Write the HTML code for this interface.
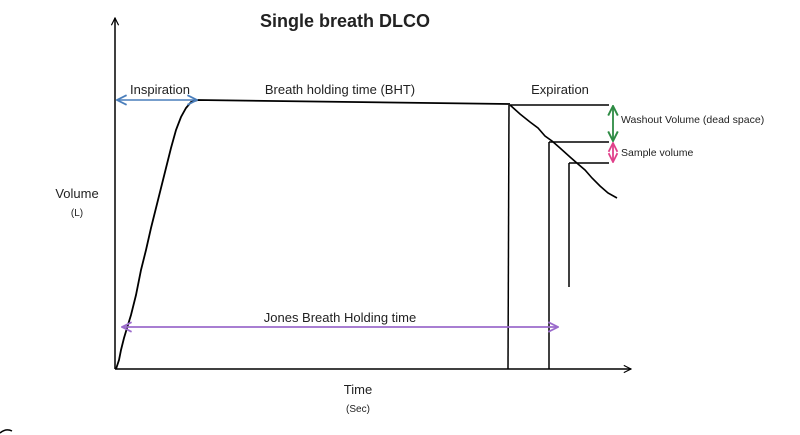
<!DOCTYPE html>
<html><head><meta charset="utf-8"><style>
html,body{margin:0;padding:0;background:#fff;}
svg{display:block;}
text{font-family:"Liberation Sans",sans-serif;fill:#222;}
</style></head><body>
<svg width="800" height="435" viewBox="0 0 800 435">
<defs>
<marker id="ab" viewBox="0 0 10 10" refX="9" refY="5" markerWidth="9" markerHeight="9" orient="auto-start-reverse" markerUnits="userSpaceOnUse"><path d="M1,1 L9,5 L1,9" fill="none" stroke="#000" stroke-width="1.3"/></marker>
<marker id="abl" viewBox="0 0 10 10" refX="9" refY="5" markerWidth="12" markerHeight="12" orient="auto-start-reverse" markerUnits="userSpaceOnUse"><path d="M1,1 L9,5 L1,9" fill="none" stroke="#4a7ebb" stroke-width="1.5"/></marker>
<marker id="apu" viewBox="0 0 10 10" refX="9" refY="5" markerWidth="12" markerHeight="12" orient="auto-start-reverse" markerUnits="userSpaceOnUse"><path d="M1,1 L9,5 L1,9" fill="none" stroke="#9b6bcc" stroke-width="1.5"/></marker>
<marker id="agr" viewBox="0 0 10 10" refX="9" refY="5" markerWidth="12" markerHeight="12" orient="auto-start-reverse" markerUnits="userSpaceOnUse"><path d="M1,1 L9,5 L1,9" fill="none" stroke="#2e8b44" stroke-width="1.6"/></marker>
<marker id="apk" viewBox="0 0 10 10" refX="9" refY="5" markerWidth="11" markerHeight="11" orient="auto-start-reverse" markerUnits="userSpaceOnUse"><path d="M1,1 L9,5 L1,9" fill="none" stroke="#e0408a" stroke-width="1.6"/></marker>
</defs>

<text x="345" y="27" text-anchor="middle" font-weight="bold" font-size="18">Single breath DLCO</text>

<line x1="115" y1="369" x2="115" y2="18" stroke="#000" stroke-width="1.5" marker-end="url(#ab)"/>
<line x1="115" y1="369" x2="631" y2="369" stroke="#000" stroke-width="1.5" marker-end="url(#ab)"/>

<text x="77" y="198" text-anchor="middle" font-size="13">Volume</text>
<text x="77" y="216" text-anchor="middle" font-size="10">(L)</text>
<text x="358" y="394" text-anchor="middle" font-size="13">Time</text>
<text x="358" y="412" text-anchor="middle" font-size="10">(Sec)</text>

<path d="M116,369 L119,360 L121,350 L124,338 L127,328 L131,315 L136,295 L141,270 L146,250 L151,228 L156,208 L161,188 L166,168 L171,148 L176,130 L181,117 L186,108 L191,102 L198,100 L510,104" fill="none" stroke="#000" stroke-width="1.8"/>
<path d="M510,105 L520,114 L530,122 L538,128 L545,136 L552,141 L560,148 L570,157 L578,164 L585,170 L592,178 L600,186 L608,193 L617,198" fill="none" stroke="#000" stroke-width="1.6"/>

<line x1="510" y1="105" x2="609" y2="105" stroke="#000" stroke-width="1.5"/>
<line x1="509" y1="105" x2="508" y2="369" stroke="#000" stroke-width="1.5"/>
<line x1="549" y1="142" x2="609" y2="142" stroke="#000" stroke-width="1.5"/>
<line x1="549" y1="142" x2="549" y2="369" stroke="#000" stroke-width="1.5"/>
<line x1="569" y1="163" x2="609" y2="163" stroke="#000" stroke-width="1.5"/>
<line x1="569" y1="163" x2="569" y2="287" stroke="#000" stroke-width="1.5"/>

<line x1="117" y1="100" x2="197" y2="100" stroke="#4a7ebb" stroke-width="1.6" marker-start="url(#abl)" marker-end="url(#abl)"/>
<line x1="122" y1="327" x2="558" y2="327" stroke="#9b6bcc" stroke-width="1.8" marker-start="url(#apu)" marker-end="url(#apu)"/>
<line x1="613" y1="106" x2="613" y2="141" stroke="#2e8b44" stroke-width="1.8" marker-start="url(#agr)" marker-end="url(#agr)"/>
<line x1="613" y1="143" x2="613" y2="162" stroke="#e0408a" stroke-width="1.8" marker-start="url(#apk)" marker-end="url(#apk)"/>

<text x="160" y="94" text-anchor="middle" font-size="13">Inspiration</text>
<text x="340" y="94" text-anchor="middle" font-size="13">Breath holding time (BHT)</text>
<text x="560" y="94" text-anchor="middle" font-size="13">Expiration</text>
<text x="621" y="123" font-size="10.5">Washout Volume (dead space)</text>
<text x="621" y="156" font-size="10.5">Sample volume</text>
<text x="340" y="322" text-anchor="middle" font-size="13">Jones Breath Holding time</text>

<path d="M0,433 Q6,428 12,431" fill="none" stroke="#000" stroke-width="1.5"/>
</svg>
</body></html>
